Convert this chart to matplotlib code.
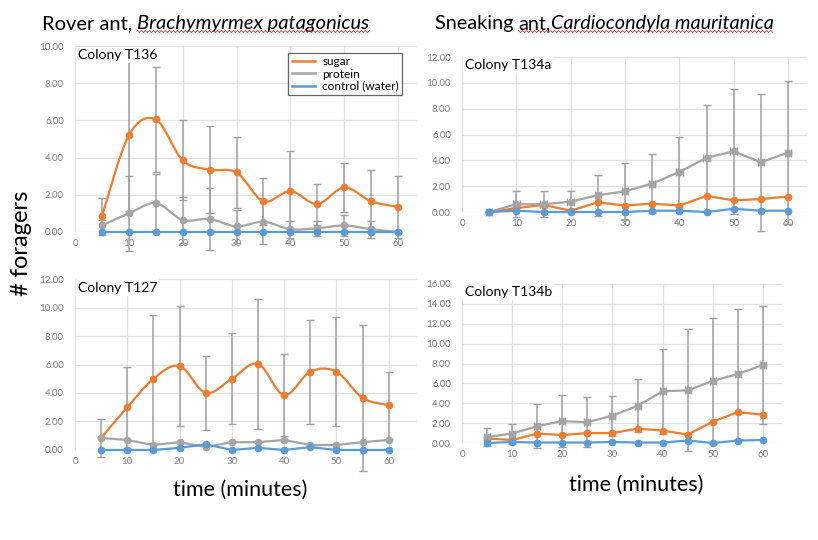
import numpy as np
import matplotlib.pyplot as plt
from matplotlib.path import Path
from matplotlib.patches import PathPatch
from matplotlib.lines import Line2D

plt.rcParams['font.family'] = ['Lato', 'DejaVu Sans']

minutes = [5, 10, 15, 20, 25, 30, 35, 40, 45, 50, 55, 60]

# Colony T136 (rover ant)
t136_sugar = [0.85, 5.2, 6.05, 3.85, 3.35, 3.2, 1.65, 2.2, 1.5, 2.4, 1.65, 1.35]
t136_sugar_sd = [1.0, 4.05, 2.8, 2.15, 2.35, 1.9, 1.25, 2.15, 1.1, 1.3, 1.7, 1.65]
t136_protein = [0.35, 1.0, 1.55, 0.65, 0.7, 0.3, 0.55, 0.15, 0.2, 0.35, 0.15, 0.0]
t136_protein_sd = [0.3, 2.0, 1.55, 1.25, 1.65, 0.9, 1.2, 0.45, 0.4, 0.55, 0.45, 0.0]
t136_control = [0, 0, 0, 0, 0, 0, 0, 0, 0, 0, 0, 0]

# Colony T127 (rover ant)
t127_sugar = [0.85, 3.0, 5.0, 5.9, 4.0, 5.0, 6.05, 3.85, 5.5, 5.5, 3.65, 3.15]
t127_sugar_sd = [1.35, 2.85, 4.5, 4.2, 2.6, 3.2, 4.55, 2.9, 3.65, 3.8, 5.15, 2.35]
t127_protein = [0.85, 0.7, 0.35, 0.55, 0.2, 0.55, 0.55, 0.7, 0.35, 0.35, 0.55, 0.7]
t127_control = [0, 0, 0, 0.15, 0.4, 0, 0.15, 0, 0.2, 0, 0, 0]

# Colony T134a (sneaking ant)
t134a_sugar = [0, 0.3, 0.55, 0.1, 0.75, 0.5, 0.65, 0.5, 1.25, 0.9, 1.0, 1.2]
t134a_protein = [0.0, 0.6, 0.6, 0.8, 1.3, 1.6, 2.2, 3.1, 4.2, 4.7, 3.85, 4.6]
t134a_protein_sd = [0.0, 1.0, 1.0, 0.8, 1.6, 2.2, 2.3, 2.7, 4.1, 4.85, 5.3, 5.55]
t134a_control = [0, 0.1, 0, 0, 0, 0, 0.1, 0.1, 0, 0.25, 0.1, 0.1]

# Colony T134b (sneaking ant)
t134b_sugar = [0.45, 0.3, 0.95, 0.8, 1.0, 1.0, 1.45, 1.25, 0.85, 2.15, 3.1, 2.85]
t134b_protein = [0.6, 0.95, 1.7, 2.2, 2.1, 2.75, 3.75, 5.2, 5.3, 6.25, 6.95, 7.85]
t134b_protein_sd = [0.9, 1.0, 2.25, 2.65, 2.5, 2.0, 2.65, 4.25, 6.15, 6.35, 6.5, 5.95]
t134b_control = [0, 0.1, 0.05, 0.05, 0.05, 0.1, 0.05, 0.05, 0.25, 0, 0.25, 0.3]

time_err = 0.6  # horizontal error bars on protein (T134)

ORANGE = '#ED7D31'
GRAY = '#A5A5A5'
BLUE = '#5B9BD5'
ERR = '#A0A0A0'
TICK = '#7F7F7F'


def smooth_line(ax, x, y, color):
    # excel-style smoothed line: cubic bezier through the points
    x = np.asarray(x, float)
    y = np.asarray(y, float)
    n = len(x)
    verts = [(x[0], y[0])]
    codes = [Path.MOVETO]
    for i in range(n - 1):
        a = max(i - 1, 0)
        b = min(i + 2, n - 1)
        c1 = (x[i] + (x[i + 1] - x[a]) / 6, y[i] + (y[i + 1] - y[a]) / 6)
        c2 = (x[i + 1] - (x[b] - x[i]) / 6, y[i + 1] - (y[b] - y[i]) / 6)
        verts += [c1, c2, (x[i + 1], y[i + 1])]
        codes += [Path.CURVE4] * 3
    ax.add_patch(PathPatch(Path(verts, codes), fill=False, edgecolor=color,
                           lw=1.6, zorder=2, clip_on=False))


def series(ax, y, color, smooth=False):
    if smooth:
        smooth_line(ax, minutes, y, color)
    else:
        ax.plot(minutes, y, color=color, lw=1.6, zorder=2, clip_on=False)
    ax.plot(minutes, y, 'o', color=color, ms=4.5, zorder=2.5, clip_on=False)


def errbars(ax, y, sd, xerr=None):
    eb = ax.errorbar(minutes, y, yerr=sd, xerr=xerr, fmt='none', ecolor=ERR,
                     elinewidth=1.1, capsize=2.6, capthick=1.0, zorder=1.5)
    for art in eb.get_children():
        art.set_clip_on(False)


def setup(ax, ymax, xmax, label):
    ax.set_xlim(0, xmax)
    ax.set_ylim(0, ymax)
    ax.set_xticks(range(0, 61, 10))
    ax.set_yticks(np.arange(0, ymax + 0.1, 2))
    ax.yaxis.set_major_formatter('{x:.2f}')
    ax.grid(True, color='#E2E2E2', lw=0.9)
    ax.set_axisbelow(True)
    for s in ax.spines.values():
        s.set_visible(False)
    ax.tick_params(length=0, labelsize=7, colors=TICK, pad=5)
    ax.tick_params(axis='y', pad=8)
    ax.text(0.008, 0.985, label, transform=ax.transAxes, fontsize=10, va='top',
            ha='left', zorder=5,
            bbox=dict(facecolor='white', edgecolor='none', pad=1.5))


fig = plt.figure(figsize=(8.18, 5.40), dpi=100)

# top left - T136
ax = fig.add_axes([0.0917, 0.5704, 0.418, 0.3444])
setup(ax, 10, 63.5, 'Colony T136')
errbars(ax, t136_sugar, t136_sugar_sd)
errbars(ax, t136_protein, t136_protein_sd)
series(ax, t136_sugar, ORANGE, smooth=True)
series(ax, t136_protein, GRAY, smooth=True)
series(ax, t136_control, BLUE)
handles = [Line2D([], [], color=c, lw=1.8) for c in (ORANGE, GRAY, BLUE)]
leg = ax.legend(handles, ['sugar', 'protein', 'control (water)'],
                loc='upper right', bbox_to_anchor=(0.975, 0.995), fontsize=8.5,
                frameon=True, fancybox=False, handlelength=2.0,
                borderpad=0.3, labelspacing=0.1, handletextpad=0.6)
leg.get_frame().set_edgecolor('#404040')
leg.get_frame().set_linewidth(0.9)
leg.set_zorder(6)

# bottom left - T127
ax = fig.add_axes([0.0917, 0.1667, 0.418, 0.3166])
setup(ax, 12, 65.4, 'Colony T127')
errbars(ax, t127_sugar, t127_sugar_sd)
series(ax, t127_sugar, ORANGE, smooth=True)
series(ax, t127_protein, GRAY)
series(ax, t127_control, BLUE)

# top right - T134a
ax = fig.add_axes([0.5648, 0.6074, 0.4218, 0.2870])
setup(ax, 12, 63.5, 'Colony T134a')
errbars(ax, t134a_protein, t134a_protein_sd, xerr=time_err)
series(ax, t134a_sugar, ORANGE)
series(ax, t134a_protein, GRAY)
series(ax, t134a_control, BLUE)

# bottom right - T134b
ax = fig.add_axes([0.5648, 0.1796, 0.3912, 0.2945])
setup(ax, 16, 63.8, 'Colony T134b')
errbars(ax, t134b_protein, t134b_protein_sd, xerr=time_err)
series(ax, t134b_sugar, ORANGE)
series(ax, t134b_protein, GRAY)
series(ax, t134b_control, BLUE)

# titles with italic species names
t1 = fig.text(42 / 818, 1 - 29 / 540, 'Rover ant, ', fontsize=14.5, va='baseline')
t1b = ax.annotate('Brachymyrmex patagonicus', xy=(1, 0), xycoords=t1,
                  va='bottom', fontsize=14.5, style='italic', annotation_clip=False)
t2 = fig.text(435 / 818, 1 - 29 / 540, 'Sneaking ', fontsize=14.3, va='baseline')
t2a = ax.annotate('ant,', xy=(1, 0), xycoords=t2, va='bottom', fontsize=14.3,
                  annotation_clip=False)
t2b = ax.annotate('Cardiocondyla mauritanica', xy=(1, 0), xycoords=t2a,
                  va='bottom', fontsize=14.3, style='italic', annotation_clip=False)

fig.text(22 / 818, 1 - 243 / 540, '# foragers', rotation=90, fontsize=17,
         ha='center', va='center')
fig.text(240 / 818, 1 - 490 / 540, 'time (minutes)', fontsize=15.5,
         ha='center', va='center')
fig.text(636 / 818, 1 - 485 / 540, 'time (minutes)', fontsize=15.5,
         ha='center', va='center')

# red spell-check squiggles under the species names
fig.canvas.draw()
r = fig.canvas.get_renderer()
for start, end in ((t1b, t1b), (t2a, t2b)):
    x0 = start.get_window_extent(r).x0
    x1 = end.get_window_extent(r).x1
    y0 = end.get_window_extent(r).y0 + 0.5
    xs = np.arange(x0, x1, 2.0)
    ys = y0 + np.where(np.arange(len(xs)) % 2 == 0, 1.0, -1.0)
    fig.add_artist(Line2D(xs / 818, ys / 540, color='#E03030', lw=0.6,
                          transform=fig.transFigure))

fig.savefig('out.png', dpi=100)
